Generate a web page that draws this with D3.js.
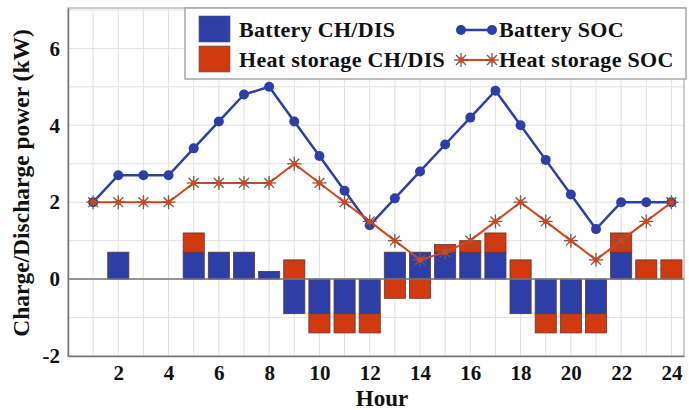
<!DOCTYPE html>
<html>
<head>
<meta charset="utf-8">
<script src="https://cdn.jsdelivr.net/npm/d3@7"></script>
<style>
  body { margin: 0; background: #fff; }
  svg { display: block; }
  text { font-family: "Liberation Serif", "Times New Roman", serif; font-weight: bold; fill: #111; }
</style>
</head>
<body>
<svg id="chart" width="689" height="410"></svg>
<script>
// Hourly schedule of battery and heat storage
const hours = d3.range(1, 25);
const batteryPower = [0, 0.7, 0, 0, 0.7, 0.7, 0.7, 0.2, -0.9, -0.9, -0.9, -0.9,
                      0.7, 0.7, 0.7, 0.7, 0.7, -0.9, -0.9, -0.9, -0.9, 0.7, 0, 0];
const heatPower = [0, 0, 0, 0, 0.5, 0, 0, 0, 0.5, -0.5, -0.5, -0.5,
                   -0.5, -0.5, 0.2, 0.3, 0.5, 0.5, -0.5, -0.5, -0.5, 0.5, 0.5, 0.5];
const batterySOC = [2.0, 2.7, 2.7, 2.7, 3.4, 4.1, 4.8, 5.0, 4.1, 3.2, 2.3, 1.4,
                    2.1, 2.8, 3.5, 4.2, 4.9, 4.0, 3.1, 2.2, 1.3, 2.0, 2.0, 2.0];
const heatSOC = [2.0, 2.0, 2.0, 2.0, 2.5, 2.5, 2.5, 2.5, 3.0, 2.5, 2.0, 1.5,
                 1.0, 0.5, 0.7, 1.0, 1.5, 2.0, 1.5, 1.0, 0.5, 1.0, 1.5, 2.0];
const xTicks = [2, 4, 6, 8, 10, 12, 14, 16, 18, 20, 22, 24];
const yTicks = [-2, 0, 2, 4, 6];
const seriesNames = ["Battery CH/DIS", "Heat storage CH/DIS", "Battery SOC", "Heat storage SOC"];

const blue = "#2d3ea6";
const red = "#d2390f";
const lineRed = "#d8441a";

const svg = d3.select("#chart");
const plotL = 68, plotR = 684, plotT = 8, plotB = 356;

const x = d3.scaleLinear().domain([0, 24.5]).range([plotL, plotR]);
const y = d3.scaleLinear().domain([-2, 7.05]).range([plotB, plotT]);

// grid
const grid = svg.append("g");
grid.selectAll("line.v").data(hours).join("line")
  .attr("x1", d => x(d)).attr("x2", d => x(d))
  .attr("y1", plotT).attr("y2", plotB)
  .attr("stroke", "#e2e2e2").attr("stroke-width", 1);
grid.selectAll("line.h").data(d3.range(-1, 8)).join("line")
  .attr("x1", plotL).attr("x2", plotR)
  .attr("y1", d => y(d)).attr("y2", d => y(d))
  .attr("stroke", "#e2e2e2").attr("stroke-width", 1);

// frame
svg.append("rect").attr("x", plotL).attr("y", plotT)
  .attr("width", plotR - plotL).attr("height", plotB - plotT)
  .attr("fill", "none").attr("stroke", "#bdbdbd").attr("stroke-width", 1.5);

// stacked bars (diverging)
const rows = hours.map((h, i) => ({ hour: h, battery: batteryPower[i], heat: heatPower[i] }));
const stack = d3.stack().keys(["battery", "heat"]).offset(d3.stackOffsetDiverging);
const layers = stack(rows);
const barW = x(0.84) - x(0);
const colors = { battery: blue, heat: red };
svg.append("g").selectAll("g").data(layers).join("g")
  .attr("fill", d => colors[d.key])
  .selectAll("rect").data(d => d.filter(p => p[1] !== p[0])).join("rect")
  .attr("x", d => x(d.data.hour) - barW / 2)
  .attr("width", barW)
  .attr("y", d => y(Math.max(d[0], d[1])))
  .attr("height", d => Math.abs(y(d[0]) - y(d[1])))
  .attr("stroke", "#5a3a35").attr("stroke-width", 0.8);

// zero line
svg.append("line").attr("x1", plotL).attr("x2", plotR)
  .attr("y1", y(0)).attr("y2", y(0))
  .attr("stroke", "#777").attr("stroke-width", 1.5);

// axes
const xAxis = d3.axisBottom(x).tickValues(xTicks).tickSize(0).tickPadding(9)
  .tickFormat(d => String(d));
const gx = svg.append("g").attr("transform", `translate(0,${plotB})`).call(xAxis);
gx.select(".domain").attr("stroke", "#777").attr("stroke-width", 1.5);
gx.selectAll("text").style("font-size", "21px").attr("fill", "#111");

const yAxis = d3.axisLeft(y).tickValues(yTicks).tickSize(0).tickPadding(8)
  .tickFormat(d => String(d));
const gy = svg.append("g").attr("transform", `translate(${plotL},0)`).call(yAxis);
gy.select(".domain").attr("stroke", "#777").attr("stroke-width", 1.5);
gy.selectAll("text").style("font-size", "21px").attr("fill", "#111");

svg.append("text").attr("x", 382).attr("y", 406)
  .attr("text-anchor", "middle").style("font-size", "23px").text("Hour");
svg.append("text").attr("transform", "translate(29,183) rotate(-90)")
  .attr("text-anchor", "middle").style("font-size", "23.5px").text("Charge/Discharge power (kW)");

// SOC lines
const line = d3.line().x((d, i) => x(hours[i])).y(d => y(d));
svg.append("path").datum(batterySOC).attr("d", line)
  .attr("fill", "none").attr("stroke", blue).attr("stroke-width", 2.5);
svg.append("g").selectAll("circle").data(batterySOC).join("circle")
  .attr("cx", (d, i) => x(hours[i])).attr("cy", d => y(d)).attr("r", 5)
  .attr("fill", blue);

svg.append("path").datum(heatSOC).attr("d", line)
  .attr("fill", "none").attr("stroke", lineRed).attr("stroke-width", 2);

function starMarker(g, cx, cy) {
  const s = g.append("g").attr("transform", `translate(${cx},${cy})`);
  d3.range(8).forEach(k => {
    const a = k * Math.PI / 4;
    s.append("line").attr("x1", 0).attr("y1", 0)
      .attr("x2", 7 * Math.cos(a)).attr("y2", 7 * Math.sin(a))
      .attr("stroke", "#7a5a4a").attr("stroke-width", 1.3);
  });
  s.append("rect").attr("x", -2.5).attr("y", -2.5).attr("width", 5).attr("height", 5)
    .attr("fill", lineRed);
}
const stars = svg.append("g");
heatSOC.forEach((v, i) => starMarker(stars, x(hours[i]), y(v)));

// legend
const lg = svg.append("g");
lg.append("rect").attr("x", 185).attr("y", 8).attr("width", 501).attr("height", 71)
  .attr("fill", "#fff").attr("stroke", "#a8a8a8").attr("stroke-width", 1.5);
lg.append("rect").attr("x", 199).attr("y", 16).attr("width", 31).attr("height", 26)
  .attr("fill", blue).attr("stroke", "#555").attr("stroke-width", 0.6);
lg.append("rect").attr("x", 199).attr("y", 46).attr("width", 31).attr("height", 26)
  .attr("fill", red).attr("stroke", "#555").attr("stroke-width", 0.6);
const legendText = (tx, ty, s) => lg.append("text").attr("x", tx).attr("y", ty)
  .style("font-size", "22px").style("letter-spacing", "0.3px").text(s);
legendText(239, 37, seriesNames[0]);
legendText(239, 67, seriesNames[1]);
lg.append("line").attr("x1", 461).attr("x2", 492).attr("y1", 30).attr("y2", 30)
  .attr("stroke", blue).attr("stroke-width", 2.5);
[461, 492].forEach(cx => lg.append("circle").attr("cx", cx).attr("cy", 30).attr("r", 5).attr("fill", blue));
lg.append("line").attr("x1", 461).attr("x2", 492).attr("y1", 60).attr("y2", 60)
  .attr("stroke", lineRed).attr("stroke-width", 2);
[461, 492].forEach(cx => starMarker(lg, cx, 60));
legendText(499, 37, seriesNames[2]);
legendText(499, 67, seriesNames[3]);
</script>
</body>
</html>
